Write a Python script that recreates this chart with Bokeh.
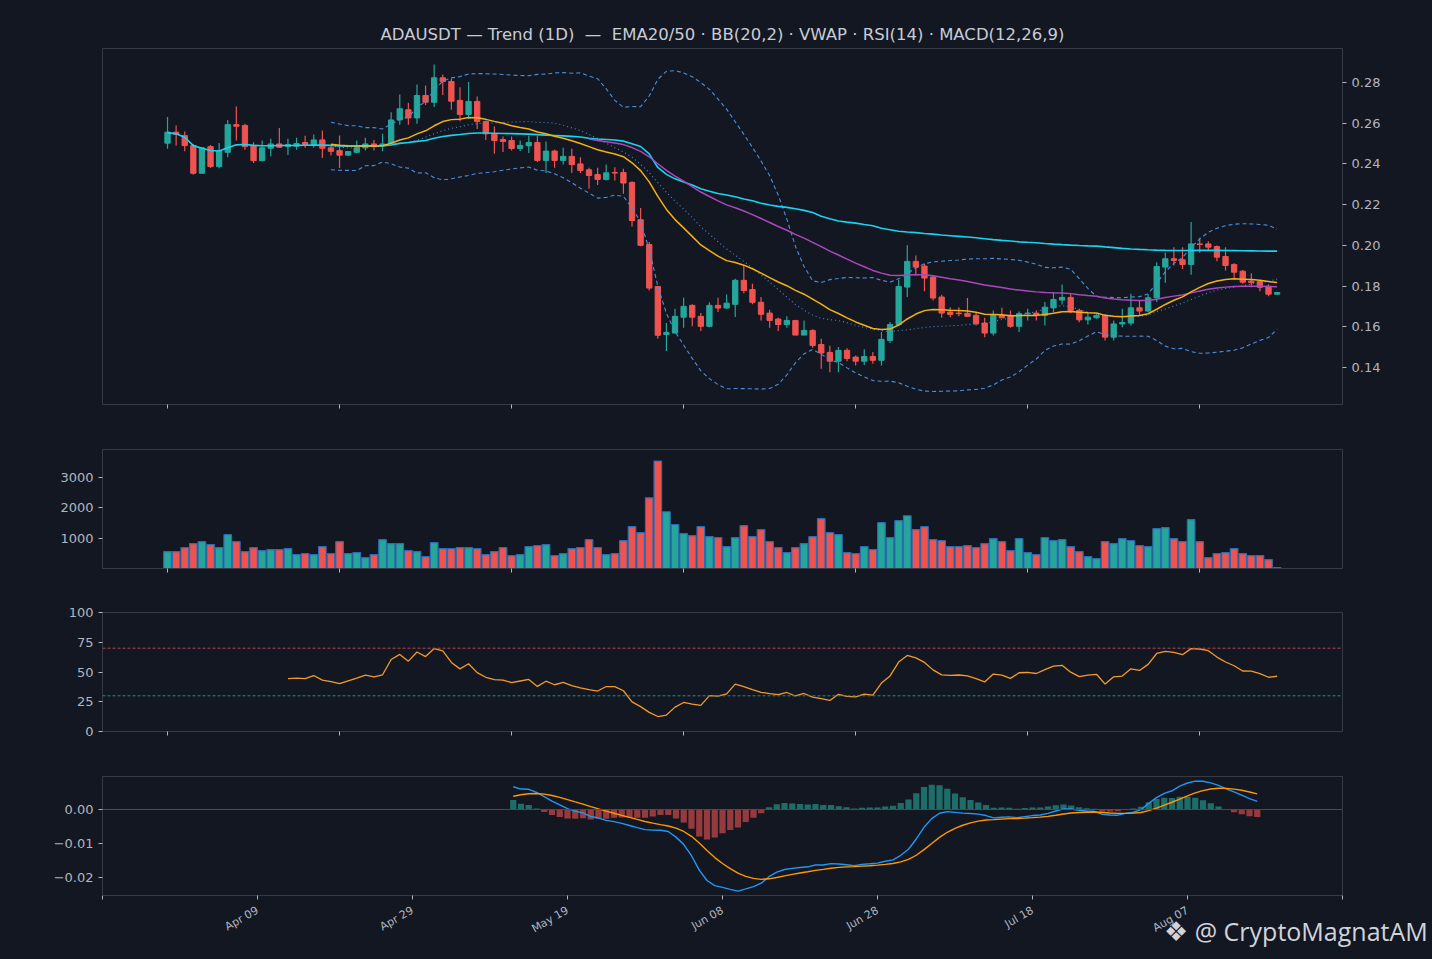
import math
import numpy as np
import pandas as pd
from bokeh.plotting import figure
from bokeh.layouts import column
from bokeh.models import FixedTicker, Span, Range1d
from bokeh.embed import file_html
from bokeh.resources import INLINE

opens = [.2502,.2556,.2539,.2490,.2354,.2485,.2387,.2457,.2593,.2589,.2490,.2416,.2477,.2498,.2485,.2487,.2505,.2495,.2518,.2479,
         .2466,.2443,.2457,.2479,.2498,.2490,.2502,.2616,.2666,.2626,.2736,.2703,.2823,.2805,.2712,.2643,.2707,.2608,.2548,.2520,
         .2515,.2476,.2489,.2505,.2417,.2463,.2417,.2437,.2400,.2371,.2348,.2324,.2358,.2358,.2309,.2126,.2004,.1798,.1562,.1569,
         .1647,.1705,.1651,.1602,.1705,.1692,.1710,.1828,.1783,.1720,.1667,.1638,.1611,.1631,.1559,.1582,.1513,.1474,.1431,.1484,
         .1451,.1431,.1454,.1435,.1533,.1611,.1795,.1921,.1898,.1844,.1746,.1672,.1667,.1666,.1656,.1618,.1569,.1656,.1656,.1602,
         .1664,.1667,.1656,.1693,.1731,.1744,.1680,.1634,.1644,.1654,.1549,.1614,.1618,.1693,.1677,.1742,.1893,.1934,.1929,.1906,
         .2007,.2007,.1994,.1945,.1906,.1873,.1824,.1822,.1799,.1760]
highs = [.2631,.2589,.2559,.2498,.2479,.2493,.2503,.2616,.2682,.2597,.2507,.2515,.2523,.2577,.2523,.2528,.2538,.2544,.2564,.2485,
         .2539,.2461,.2515,.2528,.2518,.2548,.2654,.2741,.2700,.2790,.2785,.2889,.2839,.2818,.2777,.2802,.2731,.2613,.2584,.2535,
         .2535,.2515,.2540,.2540,.2510,.2469,.2479,.2474,.2433,.2381,.2381,.2397,.2384,.2376,.2315,.2183,.2016,.1798,.1618,.1688,
         .1742,.1710,.1667,.1720,.1742,.1759,.1836,.1901,.1811,.1746,.1683,.1644,.1651,.1631,.1631,.1588,.1541,.1507,.1500,.1494,
         .1459,.1489,.1476,.1574,.1623,.1831,.2000,.1950,.1909,.1852,.1757,.1696,.1696,.1741,.1667,.1644,.1680,.1693,.1680,.1675,
         .1688,.1680,.1721,.1770,.1807,.1762,.1688,.1667,.1663,.1663,.1631,.1688,.1762,.1729,.1758,.1917,.1963,.1991,.1991,.2114,
         .2037,.2020,.1999,.1991,.1912,.1879,.1863,.1830,.1807,.1768]
lows = [.2474,.2490,.2462,.2347,.2354,.2380,.2379,.2433,.2515,.2469,.2405,.2413,.2438,.2479,.2444,.2469,.2479,.2479,.2429,.2441,
        .2380,.2443,.2452,.2466,.2466,.2462,.2498,.2593,.2593,.2597,.2690,.2679,.2739,.2666,.2610,.2621,.2572,.2518,.2450,.2458,
        .2466,.2463,.2453,.2409,.2355,.2381,.2397,.2355,.2355,.2278,.2297,.2319,.2319,.2253,.2093,.1995,.1778,.1541,.1481,.1569,
        .1595,.1602,.1579,.1598,.1672,.1688,.1648,.1765,.1710,.1631,.1595,.1579,.1595,.1559,.1559,.1497,.1394,.1377,.1377,.1431,
        .1410,.1412,.1418,.1410,.1520,.1606,.1746,.1852,.1775,.1729,.1644,.1647,.1651,.1651,.1606,.1549,.1557,.1644,.1595,.1574,
        .1631,.1631,.1606,.1670,.1709,.1667,.1622,.1611,.1639,.1532,.1532,.1598,.1606,.1655,.1672,.1721,.1816,.1901,.1884,.1855,
        .1963,.1975,.1922,.1876,.1840,.1811,.1794,.1775,.1750,.1760]
closes = [.2556,.2546,.2490,.2354,.2479,.2387,.2462,.2593,.2585,.2485,.2416,.2479,.2498,.2482,.2495,.2500,.2495,.2518,.2477,.2462,
          .2443,.2461,.2479,.2498,.2485,.2498,.2616,.2671,.2626,.2736,.2703,.2823,.2805,.2708,.2643,.2707,.2608,.2548,.2515,.2510,
          .2476,.2491,.2505,.2417,.2463,.2417,.2437,.2397,.2368,.2343,.2324,.2356,.2355,.2306,.2122,.2000,.1790,.1558,.1572,.1651,
          .1700,.1647,.1602,.1705,.1692,.1716,.1828,.1778,.1720,.1661,.1631,.1611,.1631,.1559,.1582,.1508,.1471,.1431,.1484,.1444,
          .1431,.1454,.1435,.1538,.1611,.1798,.1921,.1893,.1839,.1741,.1667,.1660,.1664,.1651,.1615,.1569,.1656,.1644,.1602,.1664,
          .1667,.1656,.1696,.1734,.1744,.1680,.1634,.1647,.1655,.1549,.1614,.1621,.1693,.1677,.1742,.1896,.1934,.1925,.1906,.2007,
          .2004,.1991,.1942,.1901,.1868,.1819,.1817,.1794,.1760,.1768]
volumes = [557,557,689,820,885,787,689,1115,885,557,689,590,623,623,656,459,492,459,721,492,
           885,492,525,361,459,951,820,820,590,557,393,853,656,656,689,689,656,459,557,689,
           426,459,721,754,787,426,492,656,689,951,689,459,492,918,1377,1180,2328,3541,1869,1443,
           1148,1082,1377,1049,1016,721,1016,1410,1049,1279,885,689,525,689,820,1049,1640,1180,1115,525,
           492,721,623,1508,1016,1574,1738,1279,1377,951,918,721,721,754,689,820,984,885,590,984,
           525,459,1016,918,951,721,557,393,328,885,820,984,918,754,721,1312,1344,984,885,1607,
           885,361,492,525,656,492,426,426,295,33]
tick_bars = [-20, 0, 20, 40, 60, 80, 100, 120, 140]
tick_labels = ["", "Apr 09", "Apr 29", "May 19", "Jun 08", "Jun 28", "Jul 18", "Aug 07", ""]
watermark = "@ CryptoMagnatAM"

BG = "#131722"
UP, DN = "#26a69a", "#ef5350"
TXT = "#b2b5be"
EDGE = "#363a45"

n = len(closes)
x = np.arange(n)
o, h, l, c = map(np.array, (opens, highs, lows, closes))
v = np.array(volumes, dtype=float)
up = c >= o
cols = np.where(up, UP, DN)
cs = pd.Series(c)

ema20 = cs.ewm(span=20, adjust=False).mean().where(x >= 19)
ema50 = cs.ewm(span=50, adjust=False).mean().where(x >= 49)
mid = cs.rolling(20).mean()
sd = cs.rolling(20).std()
bbu, bbl = mid + 2 * sd, mid - 2 * sd
tp = (h + l + c) / 3
vwap = np.cumsum(tp * v) / np.cumsum(v)
d = cs.diff()
g = d.clip(lower=0).ewm(alpha=1/14, adjust=False, min_periods=14).mean()
ls = (-d.clip(upper=0)).ewm(alpha=1/14, adjust=False, min_periods=14).mean()
rsi = 100 - 100 / (1 + g / ls)
macd = cs.ewm(span=12, adjust=False).mean() - cs.ewm(span=26, adjust=False).mean()
sig = macd.ewm(span=9, adjust=False).mean()
hist = macd - sig
m = x >= 33


def mk(h_, top, bottom, xr, yr, yloc="left"):
    p = figure(width=1432, height=h_, x_range=xr, y_range=yr, output_backend="svg",
               toolbar_location=None, background_fill_color=BG, border_fill_color=BG,
               min_border_left=102, min_border_right=90, min_border_top=top,
               min_border_bottom=bottom, y_axis_location=yloc, outline_line_color=EDGE)
    p.grid.visible = False
    for ax in p.axis:
        ax.axis_line_color = EDGE
        ax.major_tick_line_color = TXT
        ax.minor_tick_line_color = None
        ax.major_tick_out = 4
        ax.major_tick_in = 0
        ax.major_label_text_color = TXT
        ax.major_label_text_font = "DejaVu Sans"
        ax.major_label_text_font_size = "13px"
    p.xaxis.ticker = FixedTicker(ticks=[0, 20, 40, 60, 80, 100, 120])
    p.xaxis.major_label_overrides = {t: "" for t in [0, 20, 40, 60, 80, 100, 120]}
    return p


xr_main = Range1d(-7.56, 136.6)
p1 = mk(426, 48, 22, xr_main, Range1d(0.1218, 0.2967), "right")
p1.title.text = "ADAUSDT — Trend (1D)\u00a0\u00a0—\u00a0\u00a0EMA20/50 · BB(20,2) · VWAP · RSI(14) · MACD(12,26,9)"
p1.title.align = "center"
p1.title.text_color = "#c8ccd6"
p1.title.text_font = "DejaVu Sans"
p1.title.text_font_size = "16.5px"
p1.title.text_font_style = "normal"
p1.yaxis.ticker = FixedTicker(ticks=[0.14, 0.16, 0.18, 0.20, 0.22, 0.24, 0.26, 0.28])
p1.yaxis.major_label_overrides = {t: f"{t:.2f}" for t in [0.14, 0.16, 0.18, 0.20, 0.22, 0.24, 0.26, 0.28]}
p1.segment(x, l, x, h, color=cols, line_width=1.2)
body_top = np.maximum(o, c)
body_bot = np.minimum(o, c)
body_bot = np.where(body_top - body_bot < 0.0002, body_top - 0.0002, body_bot)
p1.vbar(x=x, top=body_top, bottom=body_bot, width=0.62, fill_color=cols, line_color=cols)
BB = "#4a8fdb"
p1.line(x, bbu, line_color=BB, line_dash="4 3", line_width=1.1)
p1.line(x, bbl, line_color=BB, line_dash="4 3", line_width=1.1)
p1.line(x, mid, line_color=BB, line_dash="1 3", line_width=1.1)
p1.line(x, vwap, line_color="#18d4ef", line_width=1.6)
p1.line(x, ema50, line_color="#ab47bc", line_width=1.5)
p1.line(x, ema20, line_color="#f5b014", line_width=1.5)

p2 = mk(164, 23, 22, xr_main, Range1d(0, 3920))
p2.yaxis.ticker = FixedTicker(ticks=[1000, 2000, 3000])
p2.vbar(x=x, top=v, width=0.88, fill_color=cols, line_color="#2a6db5", line_width=1.2)

p3 = mk(164, 22, 23, xr_main, Range1d(0, 100))
p3.yaxis.ticker = FixedTicker(ticks=[0, 25, 50, 75, 100])
p3.add_layout(Span(location=70, dimension="width", line_color="#c0434a", line_dash="3 2", line_width=1))
p3.add_layout(Span(location=30, dimension="width", line_color="#1f8f88", line_dash="3 2", line_width=1))
p3.line(x, rsi, line_color="#f39a2b", line_width=1.3)

p4 = mk(205, 22, 64, Range1d(-20, 140), Range1d(-0.0253, 0.0097))
p4.xaxis.ticker = FixedTicker(ticks=tick_bars)
p4.xaxis.major_label_overrides = dict(zip(tick_bars, tick_labels))
p4.xaxis.major_label_orientation = math.pi / 6
p4.xaxis.major_label_text_font_size = "11px"
p4.xaxis.major_label_standoff = 10
p4.yaxis.ticker = FixedTicker(ticks=[-0.02, -0.01, 0.0])
p4.yaxis.major_label_overrides = {-0.02: "−0.02", -0.01: "−0.01", 0.0: "0.00"}
p4.add_layout(Span(location=0, dimension="width", line_color="#4a4e59", line_width=1))
hc = np.where(hist >= 0, UP, DN)
p4.vbar(x=x[m], top=hist[m], width=0.8, fill_color=hc[m], line_color=None, fill_alpha=0.6)
p4.line(x[m], macd[m], line_color="#2196f3", line_width=1.4)
p4.line(x[m], sig[m], line_color="#ff9800", line_width=1.4)

layout = column(p1, p2, p3, p4, spacing=0)
html = file_html(layout, INLINE)
style = f"<style>html, body {{ background: {BG} !important; margin: 0; }}</style></head>"
html = html.replace("</head>", style, 1)
wm_div = ('<div style="position:absolute; left:1164px; top:914px; color:#d0d3da; '
          'font-family:\'Open Sans\', \'DejaVu Sans\', sans-serif; font-size:25px; white-space:nowrap;">'
          '<span style="font-family:\'DejaVu Sans\'; font-size:27px;">❖</span> ' + watermark + '</div></body>')
html = html.replace("</body>", wm_div, 1)
open("out.html", "w").write(html)
